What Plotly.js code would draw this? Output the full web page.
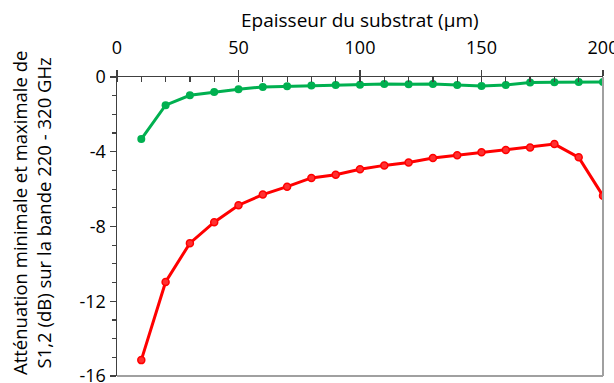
<!DOCTYPE html>
<html>
<head>
<meta charset="utf-8">
<script src="https://cdn.plot.ly/plotly-3.0.1.min.js"></script>
<style>html,body{margin:0;padding:0;background:#fff}#chart{width:614px;height:383px}</style>
</head>
<body>
<div id="chart"></div>
<script>
const thickness = [10,20,30,40,50,60,70,80,90,100,110,120,130,140,150,160,170,180,190,200];
const attMin = [-3.32,-1.51,-0.98,-0.80,-0.66,-0.53,-0.50,-0.46,-0.43,-0.41,-0.37,-0.39,-0.37,-0.43,-0.48,-0.43,-0.30,-0.28,-0.27,-0.27];
const attMax = [-15.15,-10.97,-8.89,-7.77,-6.86,-6.29,-5.87,-5.40,-5.23,-4.94,-4.73,-4.57,-4.34,-4.19,-4.03,-3.91,-3.77,-3.59,-4.30,-6.36];
const xTicks = [0,50,100,150,200];
const yTicks = [0,-4,-8,-12,-16];

const font = "'Open Sans', sans-serif";

const traces = [
  {x: thickness, y: attMax, mode: 'lines+markers', line: {color: '#FF0000', width: 3},
   marker: {color: '#FF3030', size: 7, line: {color: '#FF0000', width: 1.5}}, hoverinfo: 'skip'},
  {x: thickness, y: attMin, mode: 'lines+markers', line: {color: '#00B050', width: 3},
   marker: {color: '#00B050', size: 8}, hoverinfo: 'skip'}
];

const layout = {
  width: 614, height: 383,
  margin: {l: 117, r: 11, t: 77, b: 7},
  paper_bgcolor: '#fff', plot_bgcolor: '#fff',
  showlegend: false,
  font: {family: font, size: 18, color: '#000'},
  xaxis: {
    side: 'top', range: [0, 200], tickvals: xTicks, ticktext: xTicks.map(String),
    ticklabeloverflow: 'allow', ticklabelstandoff: 8,
    showgrid: false, zeroline: false, showline: true, linecolor: '#404040', linewidth: 1.5,
    ticks: 'outside', ticklen: 6, tickcolor: '#404040', tickwidth: 1.2,
    minor: {dtick: 10, ticks: 'inside', ticklen: 5, tickcolor: '#404040', tickwidth: 1.2, showgrid: false},
    tickfont: {family: font, size: 18}
  },
  yaxis: {
    range: [-16, 0], tickvals: yTicks, ticktext: yTicks.map(String),
    ticklabeloverflow: 'allow',
    showgrid: false, zeroline: false, showline: true, linecolor: '#404040', linewidth: 1.5,
    ticks: 'outside', ticklen: 6, tickcolor: '#404040', tickwidth: 1.2,
    minor: {dtick: 1, ticks: 'outside', ticklen: 4, tickcolor: '#404040', tickwidth: 1.2, showgrid: false},
    tickfont: {family: font, size: 18}
  },
  annotations: [
    {text: 'Epaisseur du substrat (µm)', xref: 'paper', yref: 'paper', x: 0.5, y: 1.19,
     xanchor: 'center', yanchor: 'middle', showarrow: false, font: {family: font, size: 19, color: '#000'}},
    {text: 'Atténuation minimale et maximale de<br>S1,2 (dB) sur la bande 220 - 320 GHz',
     xref: 'paper', yref: 'paper', x: -0.177, y: 0.545, xanchor: 'center', yanchor: 'middle',
     textangle: -90, showarrow: false, font: {family: font, size: 18.5, color: '#000'}}
  ],
  shapes: [
    {type: 'line', xref: 'paper', yref: 'paper', x0: 1, x1: 1, y0: 0, y1: 1, line: {color: '#A0A0A0', width: 2}},
    {type: 'line', xref: 'paper', yref: 'paper', x0: 0, x1: 1, y0: 0, y1: 0, line: {color: '#A0A0A0', width: 2}}
  ]
};

Plotly.newPlot('chart', traces, layout, {displayModeBar: false, staticPlot: true});
</script>
</body>
</html>
